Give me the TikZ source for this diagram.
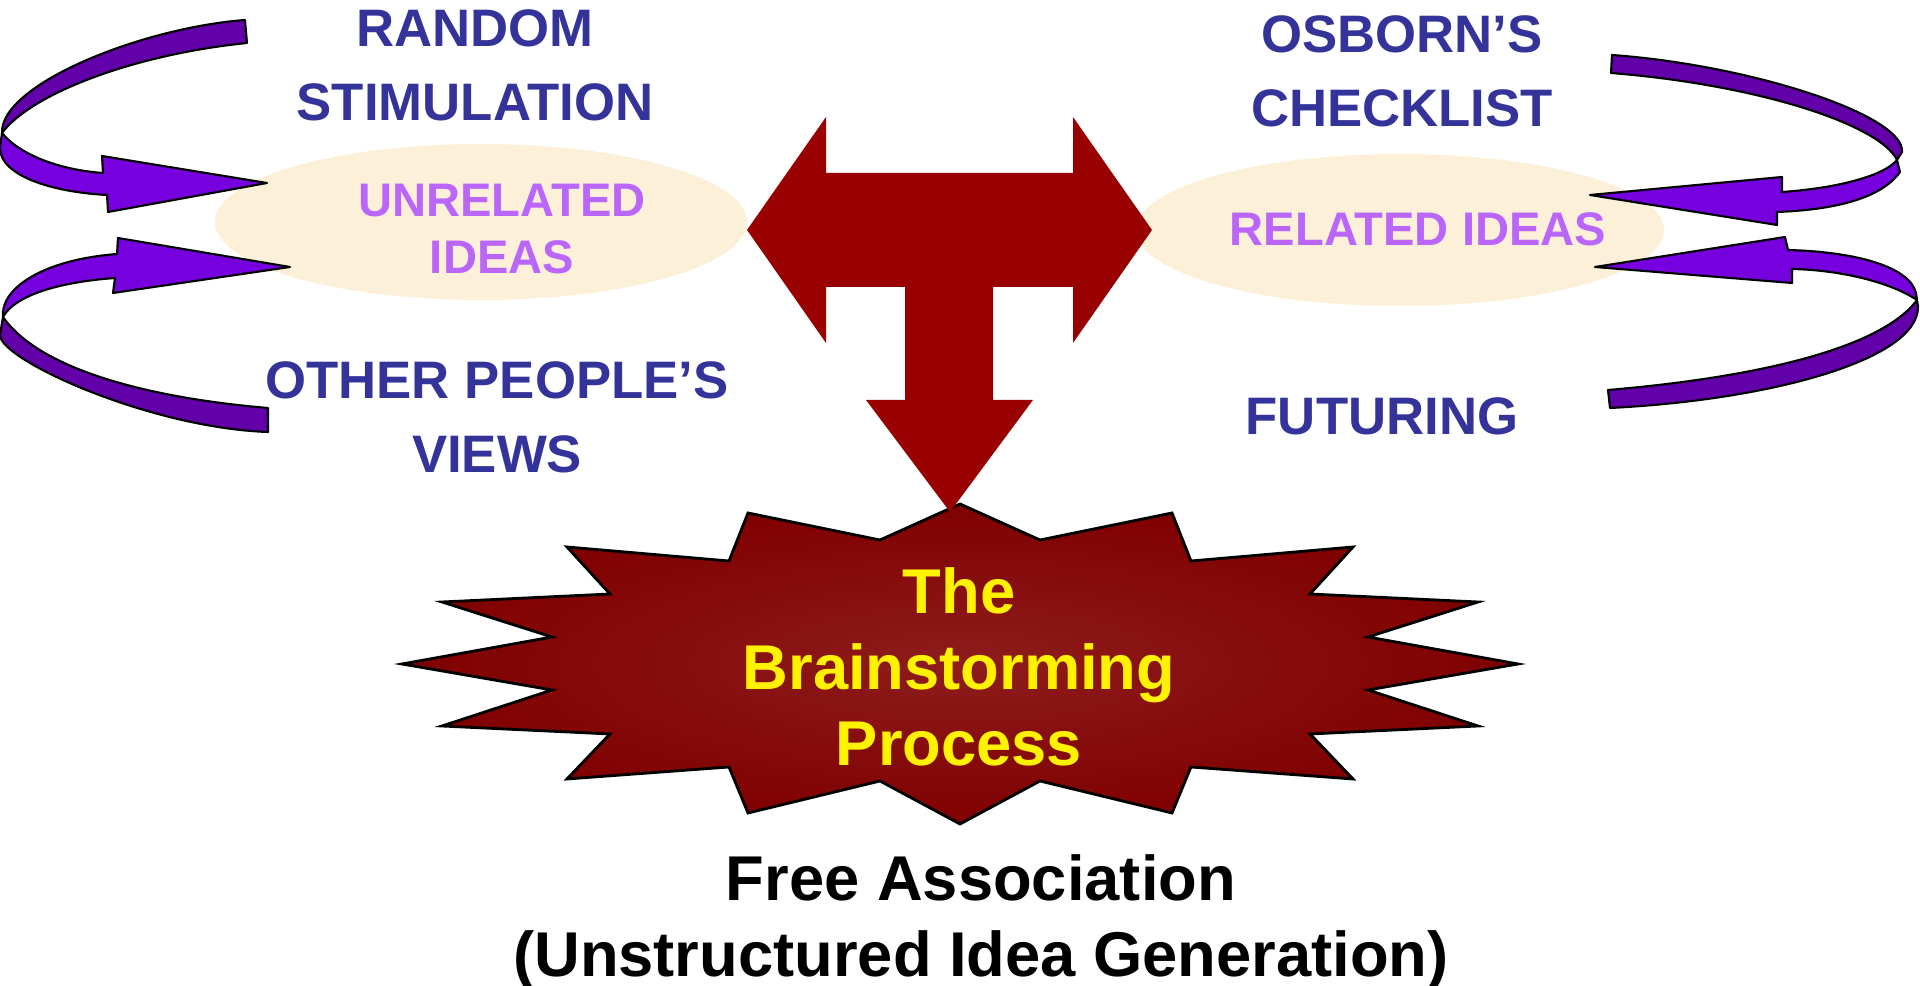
\documentclass[tikz,border=0pt]{standalone}
\usepackage{fontspec}
\setmainfont{Liberation Sans}
\definecolor{slate}{RGB}{51,51,153}
\definecolor{lilac}{RGB}{187,102,250}
\definecolor{cream}{RGB}{252,240,216}
\definecolor{ribdark}{RGB}{98,0,170}
\definecolor{riblight}{RGB}{118,0,222}
\definecolor{blood}{RGB}{153,0,0}
\definecolor{burst}{RGB}{128,0,0}
\definecolor{burstmid}{RGB}{142,28,28}
\begin{document}
\begin{tikzpicture}[x=0.01cm,y=-0.01cm,
	topic/.style={font=\bfseries\fontsize{15}{20.9}\selectfont,text=slate,align=center,inner sep=0,anchor=north},
	idea/.style={font=\bfseries\fontsize{13.4}{16.4}\selectfont,text=lilac,align=center,inner sep=0,anchor=north},
	bigtxt/.style={font=\bfseries\fontsize{18}{21.6}\selectfont,align=center,inner sep=0,anchor=north},
	blob/.style={fill=cream},
	ribbon/.style={draw=black,line width=0.6pt,line join=round}]
		\useasboundingbox (0,0) rectangle (1920,986);
		% idea clouds
		\fill[blob] (481,222) ellipse [x radius=266, y radius=78];
		\fill[blob] (1400,230) ellipse [x radius=264, y radius=76];
		% left twisted arrows
		\draw[ribbon,fill=ribdark] (245,20) .. controls (140,28) and (0,85) .. (2,133) .. controls (30,95) and (130,55) .. (247,43) -- cycle;
		\draw[ribbon,fill=riblight] (2,133) .. controls (20,155) and (60,170) .. (103,173) -- (102,156) -- (267,183) -- (108,212) -- (107,195) .. controls (50,192) and (0,175) .. (0,148) -- cycle;
		\draw[ribbon,fill=riblight] (3,317) .. controls (0,290) and (40,260) .. (117,254) -- (118,238) -- (290,267) -- (113,293) -- (115,278) .. controls (60,282) and (15,295) .. (3,317) -- cycle;
		\draw[ribbon,fill=ribdark] (3,317) .. controls (40,370) and (150,398) .. (268,408) -- (268,432) .. controls (150,428) and (0,360) .. (0,335) -- cycle;
		% right twisted arrows
		\draw[ribbon,fill=ribdark] (1612,55) .. controls (1750,65) and (1905,115) .. (1902,152) -- (1897,160) .. controls (1880,125) and (1760,85) .. (1611,73) -- cycle;
		\draw[ribbon,fill=riblight] (1897,160) -- (1900,172) .. controls (1880,200) and (1830,210) .. (1777,212) -- (1777,225) -- (1590,195) -- (1782,177) -- (1782,192) .. controls (1840,188) and (1885,175) .. (1897,160) -- cycle;
		\draw[ribbon,fill=riblight] (1788,250) .. controls (1860,252) and (1910,268) .. (1916,293) -- (1917,300) .. controls (1890,282) and (1840,270) .. (1792,269) -- (1792,283) -- (1595,267) -- (1785,237) -- cycle;
		\draw[ribbon,fill=ribdark] (1917,300) .. controls (1880,350) and (1750,378) .. (1608,390) -- (1610,408) .. controls (1770,400) and (1918,360) .. (1918,307) -- cycle;
		% the burst
		\shadedraw[inner color=burstmid,outer color=burst,draw=black,line width=0.8pt,line join=miter]
			(960,504) -- (1040,540) -- (1172,513) -- (1191,561) -- (1353,547) -- (1310,594) -- (1478,602) -- (1368,637)
			-- (1518,664) -- (1368,690) -- (1478,726) -- (1310,734) -- (1353,779) -- (1191,767) -- (1172,813) -- (1040,781)
			-- (960,824) -- (880,781) -- (748,813) -- (729,767) -- (567,779) -- (610,734) -- (442,726) -- (552,690)
			-- (402,664) -- (552,637) -- (442,602) -- (610,594) -- (567,547) -- (729,561) -- (748,513) -- (880,540) -- cycle;
		% three-way arrow
		\fill[blood] (747,230) -- (826,117) -- (826,173) -- (1073,173) -- (1073,117) -- (1152,230) -- (1073,343) -- (1073,287)
			-- (993,287) -- (993,400) -- (1033,400) -- (950,512) -- (866,400) -- (905,400) -- (905,287) -- (826,287) -- (826,343) -- cycle;
		% labels
		\node[topic] (rand) at (475,9) {RANDOM\\STIMULATION};
		\node[topic] (other) at (497,361) {OTHER PEOPLE’S\\VIEWS};
		\node[topic] (osb) at (1402,15) {OSBORN’S\\CHECKLIST};
		\node[topic] (fut) at (1382,397) {FUTURING};
		\node[idea] (unrel) at (502,183) {UNRELATED\\IDEAS};
		\node[idea] (rel) at (1418,212) {RELATED IDEAS};
		\node[bigtxt,text=yellow] (brain) at (959,567) {The\\Brainstorming\\Process};
		\node[bigtxt,text=black] (free) at (981,854) {Free Association\\(Unstructured Idea Generation)};
	\end{tikzpicture}
\end{document}
